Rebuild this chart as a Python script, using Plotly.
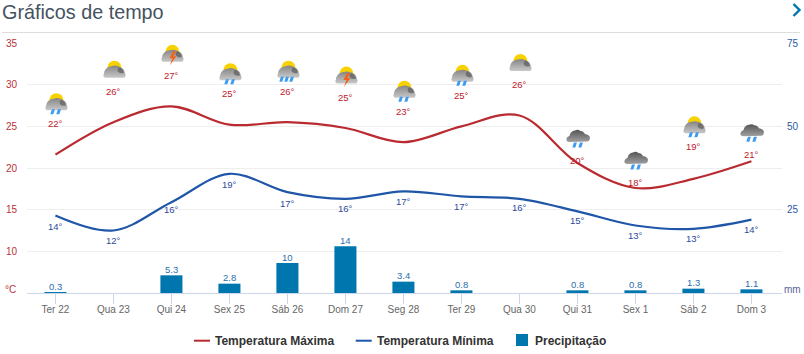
import base64
import plotly.graph_objects as go

days = ["Ter 22", "Qua 23", "Qui 24", "Sex 25", "Sáb 26", "Dom 27", "Seg 28",
        "Ter 29", "Qua 30", "Qui 31", "Sex 1", "Sáb 2", "Dom 3"]
temp_max = [21.6, 25.5, 27.4, 25.2, 25.5, 24.8, 23.1, 25.0, 26.3, 20.6, 17.6, 18.7, 20.8]
temp_min = [14.3, 12.5, 15.9, 19.3, 17.1, 16.3, 17.2, 16.6, 16.3, 14.8, 13.1, 12.7, 13.8]
precip = [0.3, None, 5.3, 2.8, 9, 14, 3.4, 0.8, None, 0.8, 0.8, 1.3, 1.1]
precip_labels = ["0.3", "", "5.3", "2.8", "10", "14", "3.4", "0.8", "", "0.8", "0.8", "1.3", "1.1"]
max_labels = [22, 26, 27, 25, 26, 25, 23, 25, 26, 20, 18, 19, 21]
min_labels = [14, 12, 16, 19, 17, 16, 17, 17, 16, 15, 13, 13, 14]
icons = ["sunrain", "sun", "sunbolt", "sunrain", "sunrain3", "sunbolt", "sunrain",
         "sunrain", "sun", "darkrain", "darkrain", "sunrain", "darkrain"]

# placement of the day labels relative to their point on the line, in pixels
max_shift = [31, 31, 31, 31, 31, 31, 31, 31, 31, 3, 6, 32, 7]
min_shift = [-10.5, -10, -7, -11, -11, -10, -10, -10.5, -9, -9, -9.5, -9.5, -9.5]

W, H = 804, 354
L, R, T, B = 27, 22, 43, 61
PX_PER_DEG = (H - T - B) / 30
MAX_COLOR, MIN_COLOR, BAR_COLOR = "#b92b30", "#1f56a8", "#0076ae"
FONT = "Liberation Sans"
X_RANGE = [-0.49, 12.527]


def px(x):
    return (x - L) / (W - L - R)


def py(y):
    return 1 - (y - T) / (H - T - B)


def icon_svg(kind):
    dark = kind.startswith("dark")
    parts = ['<svg xmlns="http://www.w3.org/2000/svg" width="90" height="90" viewBox="0 0 30 30">',
             '<defs><linearGradient id="g" x1="0" y1="0" x2="0" y2="1">']
    if dark:
        parts.append('<stop offset="0" stop-color="#555555"/><stop offset="1" stop-color="#a0a0a0"/>')
    else:
        parts.append('<stop offset="0" stop-color="#858585"/><stop offset="1" stop-color="#c8c8c8"/>')
    parts.append('</linearGradient></defs><g transform="translate(1 0)">')
    if dark:
        parts.append('<path d="M6 17 q-3.5 -0.5 -3 -3 q0.5 -2.5 3 -3 q1 -5 5.5 -5.5 q3 -1.5 5.5 0.5 q3 0 4.5 3 '
                     'q4.5 0.5 5 3.5 q0.3 3 -2.5 4 z" fill="url(#g)"/>')
        base = 17.5
    else:
        parts.append('<path d="M8 12 a7 7.5 0 0 1 14 0 z" fill="#f7d200"/>')
        parts.append('<path d="M5.5 21.5 q-2.5 -1.5 -1 -4 q0.5 -6.5 7.5 -7.5 q5 -1.5 9 1 q4 1.5 4.5 6 '
                     'q1.5 2 -0.5 4.5 z" fill="url(#g)"/>')
        parts.append('<path d="M20 11 q4 1.5 4.5 5.5 q-3 1.5 -6 -1 q-1 -3 1.5 -4.5 z" fill="#5c5c5c" opacity="0.7"/>')
        base = 20.5
    if "rain" in kind:
        xs = [7.5, 12.5, 17.5] if kind.endswith("3") else [10.5, 16.5]
        for x in xs:
            parts.append(f'<path d="M{x} {base} l3 0 l-1.6 5 l-3 0 z" fill="#3f9bf2"/>')
    if "bolt" in kind:
        parts.append('<path d="M15.5 11 l-3.5 7 l3 0 l-2.5 7 l6.5 -9 l-2.8 0 l2.5 -5 z" fill="#f2641e"/>')
    parts.append('</g></svg>')
    return "data:image/svg+xml;base64," + base64.b64encode("".join(parts).encode()).decode()


fig = go.Figure()
fig.add_trace(go.Scatter(x=days, y=temp_max, name="Temperatura Máxima", mode="lines",
                         line=dict(color=MAX_COLOR, width=2.2, shape="spline", smoothing=1.0), yaxis="y"))
fig.add_trace(go.Scatter(x=days, y=temp_min, name="Temperatura Mínima", mode="lines",
                         line=dict(color=MIN_COLOR, width=2.2, shape="spline", smoothing=1.0), yaxis="y"))
fig.add_trace(go.Bar(x=days, y=precip, name="Precipitação", yaxis="y2", marker=dict(color=BAR_COLOR, line_width=0),
                     width=0.38))

annotations = []
images = []
for d, v, lab, s, kind in zip(days, temp_max, max_labels, max_shift, icons):
    annotations.append(dict(x=d, y=v, xref="x", yref="y", text=f"{lab}°", showarrow=False, yshift=s,
                            font=dict(size=9.5, color="#c0202c", family=FONT)))
    images.append(dict(source=icon_svg(kind), xref="x", yref="y", x=d,
                       y=v + (s + 20) / PX_PER_DEG, sizex=30 * (X_RANGE[1] - X_RANGE[0]) / (W - L - R),
                       sizey=30 / PX_PER_DEG,
                       xanchor="center", yanchor="middle", sizing="contain", layer="above"))
for d, v, lab, s in zip(days, temp_min, min_labels, min_shift):
    annotations.append(dict(x=d, y=v, xref="x", yref="y", text=f"{lab}°", showarrow=False, yshift=s,
                            font=dict(size=9.5, color="#2c4a9c", family=FONT)))
for d, v, lab in zip(days, precip, precip_labels):
    if lab:
        annotations.append(dict(x=d, y=v, xref="x", yref="y2", text=lab, showarrow=False, yshift=6,
                                font=dict(size=9.5, color="#2a70ab", family=FONT)))

annotations += [
    dict(x=px(0), y=py(11.5), xref="paper", yref="paper", xanchor="left", yanchor="middle", text="Gráficos de tempo",
         showarrow=False, font=dict(size=19.8, color="#45525f", family=FONT)),
    dict(x=px(3), y=5, xref="paper", yref="y", xanchor="left", yanchor="middle", text="°C", showarrow=False, yshift=4,
         font=dict(size=10, color="#b8323a", family=FONT)),
    dict(x=px(782), y=0, xref="paper", yref="y2", xanchor="left", yanchor="middle", text="mm", showarrow=False, yshift=4,
         font=dict(size=10, color="#5a5f9a", family=FONT)),
]
# legend row
legend_font = dict(size=12, color="#333333", family=FONT, weight="bold")
for x, name in [(213, "Temperatura Máxima"), (374.5, "Temperatura Mínima"), (533, "Precipitação")]:
    annotations.append(dict(x=px(x), y=py(340.5), xref="paper", yref="paper", xanchor="left", yanchor="middle",
                            text=name, showarrow=False, font=legend_font))

fig.update_layout(
    width=W, height=H, margin=dict(l=L, r=R, t=T, b=B, pad=0, autoexpand=False),
    paper_bgcolor="white", plot_bgcolor="white", showlegend=False,
    font=dict(family=FONT),
    xaxis=dict(type="category", range=X_RANGE, showgrid=False, showline=True, linecolor="#ccd6eb",
               automargin=False, ticks="outside", ticklen=10, tickcolor="#ccd6eb", tickwidth=1, zeroline=False,
               ticklabelstandoff=-3, tickfont=dict(size=10, color="#666666")),
    yaxis=dict(range=[5, 35], tickvals=[10, 15, 20, 25, 30, 35], gridcolor="#eeeeee", gridwidth=1, zeroline=False,
               automargin=False, ticks="", ticklabelstandoff=9, tickfont=dict(size=10, color="#b8323a"), showline=False),
    yaxis2=dict(range=[0, 75], tickvals=[25, 50, 75], overlaying="y", side="right", showgrid=False, zeroline=False,
                automargin=False, ticks="", ticklabelstandoff=4, tickfont=dict(size=10, color="#2c5aa8"), showline=False),
    annotations=annotations,
    images=images,
    shapes=[
        dict(type="line", xref="paper", yref="paper", x0=px(2), x1=px(800), y0=py(32.5), y1=py(32.5),
             line=dict(color="#dddddd", width=1)),
        dict(type="path", xref="paper", yref="paper",
             path=f"M {px(793.5)} {py(4)} L {px(799.5)} {py(10)} L {px(793.5)} {py(16)}",
             line=dict(color=BAR_COLOR, width=2.4)),
        dict(type="line", xref="paper", yref="paper", x0=px(194), x1=px(210), y0=py(340.7), y1=py(340.7),
             line=dict(color=MAX_COLOR, width=2)),
        dict(type="line", xref="paper", yref="paper", x0=px(355.7), x1=px(371.7), y0=py(340.7), y1=py(340.7),
             line=dict(color=MIN_COLOR, width=2)),
        dict(type="rect", xref="paper", yref="paper", x0=px(516), x1=px(528), y0=py(334), y1=py(346),
             line_width=0, fillcolor=BAR_COLOR),
    ],
)

fig.write_html("out.html", post_script="document.body.style.margin='0';document.body.style.overflow='hidden';",
               config={"displayModeBar": False})
